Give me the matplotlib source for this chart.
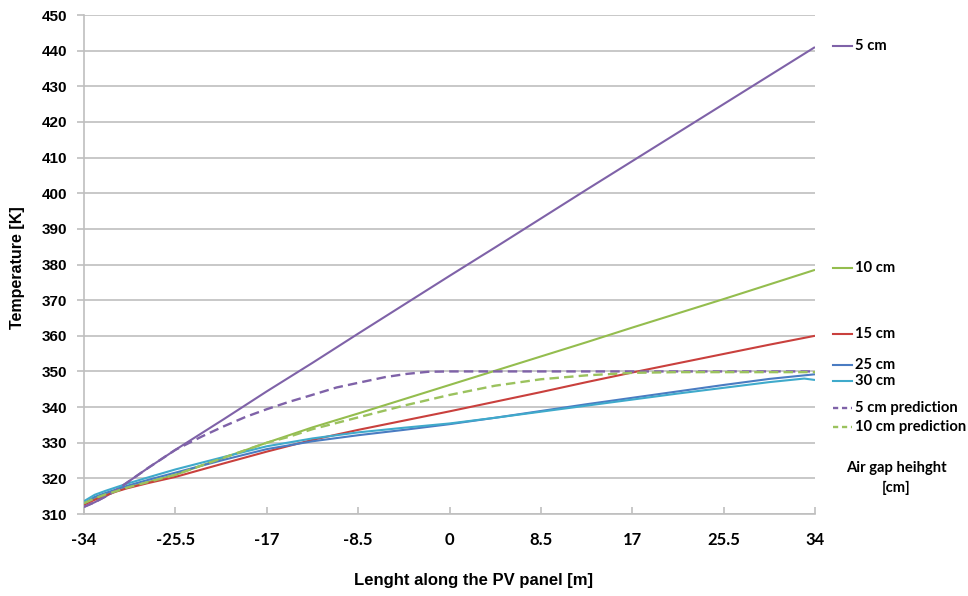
import matplotlib
matplotlib.use("Agg")
import matplotlib.pyplot as plt
from matplotlib.lines import Line2D

# ---------------- data ----------------
x_pos = [-34, -33, -32, -31, -30, -28, -25.5, -21, -17, -12.75, -8.5, -4.25,
         0, 4.25, 8.5, 12.75, 17, 21.25, 25.5, 29.75, 34]

t_5cm = [312.0, 313.3, 314.9, 316.7, 318.8, 323.0, 328.0, 336.6, 344.4, 352.4,
         360.6, 368.7, 376.8, 384.8, 392.9, 401.0, 409.0, 417.0, 425.0, 433.0, 441.0]
t_10cm = [313.0, 314.4, 315.5, 316.4, 317.4, 319.0, 321.0, 325.8, 330.0, 334.3,
          338.2, 342.2, 346.2, 350.2, 354.2, 358.2, 362.3, 366.3, 370.3, 374.4, 378.5]
t_15cm = [312.6, 314.0, 315.2, 316.3, 317.2, 318.7, 320.4, 324.2, 327.5, 330.8,
          333.6, 336.2, 338.8, 341.5, 344.2, 347.0, 349.7, 352.3, 354.9, 357.5, 360.0]
t_25cm = [313.0, 314.8, 315.9, 316.9, 317.9, 319.6, 321.6, 325.2, 328.2, 330.4,
          332.1, 333.6, 335.2, 337.0, 338.9, 340.8, 342.6, 344.4, 346.2, 347.9, 349.2]

x_30cm = [-34, -33, -32, -31, -30, -28, -25.5, -21, -17, -12.75, -8.5, -4.25,
          0, 4.25, 8.5, 12.75, 17, 21.25, 25.5, 29.75, 33, 34]
t_30cm = [313.6, 315.4, 316.5, 317.5, 318.5, 320.3, 322.5, 326.0, 329.0, 331.2,
          332.9, 334.2, 335.4, 337.0, 338.7, 340.4, 342.1, 343.8, 345.4, 347.0, 348.0, 347.6]

x_5pred = [-34, -33, -32, -31, -30, -28, -25.5, -23, -21, -19, -17, -15, -13,
           -10.5, -8.5, -6, -4, -2, 0, 34]
t_5pred = [312.0, 313.3, 314.9, 316.7, 318.8, 323.0, 328.0, 331.8, 334.6, 337.2,
           339.4, 341.4, 343.2, 345.5, 346.8, 348.4, 349.3, 349.9, 350.0, 350.0]

x_10pred = [-34, -33, -32, -31, -30, -28, -25.5, -21, -17, -15, -12.75, -8.5,
            -4.25, 0, 4.25, 8.5, 12.75, 17, 21.25, 34]
t_10pred = [313.0, 314.4, 315.5, 316.4, 317.4, 319.0, 321.0, 325.8, 330.0, 331.6,
            333.8, 337.1, 340.4, 343.4, 346.0, 347.8, 348.9, 349.6, 349.8, 349.8]

labels = ["5 cm", "10 cm", "15 cm", "25 cm", "30 cm", "5 cm prediction", "10 cm prediction"]
colors = ["#7F62A8", "#94BD4E", "#C9403D", "#4A7CC2", "#3FAACB", "#7F62A8", "#9BC25E"]
styles = ["-", "-", "-", "-", "-", "--", "--"]

x_ticks = [-34, -25.5, -17, -8.5, 0, 8.5, 17, 25.5, 34]
x_tick_labels = ["-34", "-25.5", "-17", "-8.5", "0", "8.5", "17", "25.5", "34"]
y_ticks = list(range(310, 451, 10))

series = [(x_pos, t_5cm), (x_pos, t_10cm), (x_pos, t_15cm), (x_pos, t_25cm),
          (x_30cm, t_30cm), (x_5pred, t_5pred), (x_10pred, t_10pred)]

# ---------------- figure ----------------
W, H = 968, 596
fig = plt.figure(figsize=(W / 100, H / 100), dpi=100)
ax = fig.add_axes([84 / W, 1 - 514 / H, 731 / W, 499 / H])

grid_col = "#BFBFBF"

for (xs, ys), c, ls in zip(series, colors, styles):
    if ls == "--":
        ax.plot(xs, ys, color=c, lw=1.7, linestyle=(0, (4, 2.2)), zorder=3)
    else:
        ax.plot(xs, ys, color=c, lw=1.5, zorder=3, solid_capstyle="butt")

ax.set_xlim(-34, 34)
ax.set_ylim(310, 450)
ax.set_xticks(x_ticks)
ax.set_xticklabels(x_tick_labels, family="Lato", weight="bold", size=12)
ax.set_yticks(y_ticks)
ax.set_yticklabels([str(v) for v in y_ticks], family="Liberation Sans", weight="bold", size=11)
ax.yaxis.grid(True, color=grid_col, lw=1.2)
ax.set_axisbelow(True)
for s in ["top", "right"]:
    ax.spines[s].set_visible(False)
for s in ["left", "bottom"]:
    ax.spines[s].set_color(grid_col)
    ax.spines[s].set_linewidth(1.2)
ax.tick_params(axis="y", direction="out", length=5, color=grid_col, width=1.2, pad=7)
ax.tick_params(axis="x", direction="in", length=5, color=grid_col, width=1.2, pad=13)

fig.text(473 / W, 1 - 580 / H, "Lenght along the PV panel [m]", ha="center", va="center",
         family="Liberation Sans", weight="bold", size=12)
fig.text(18 / W, 1 - 268 / H, "Temperature [K]", ha="center", va="center", rotation=90,
         family="Liberation Sans", weight="bold", size=11.5)

# right-side labels (legend)
leg_y = [46, 268, 334, 365, 381, 408, 427]
for lab, c, ls, yy in zip(labels, colors, styles, leg_y):
    yf = 1 - yy / H
    if ls == "--":
        fig.add_artist(Line2D([833 / W, 852 / W], [yf, yf], color=c, lw=1.7,
                              linestyle=(0, (2.2, 1.6)), transform=fig.transFigure))
    else:
        fig.add_artist(Line2D([833 / W, 852 / W], [yf, yf], color=c, lw=1.5,
                              transform=fig.transFigure))
    fig.text(855 / W, yf, lab, ha="left", va="center", family="Lato", weight="bold", size=10.6)

fig.text(896 / W, 1 - 468 / H, "Air gap heihght", ha="center", va="center",
         family="Lato", weight="bold", size=10.6)
fig.text(896 / W, 1 - 488 / H, "[cm]", ha="center", va="center",
         family="Lato", weight="bold", size=10.6)

fig.savefig("out.png", dpi=100)
